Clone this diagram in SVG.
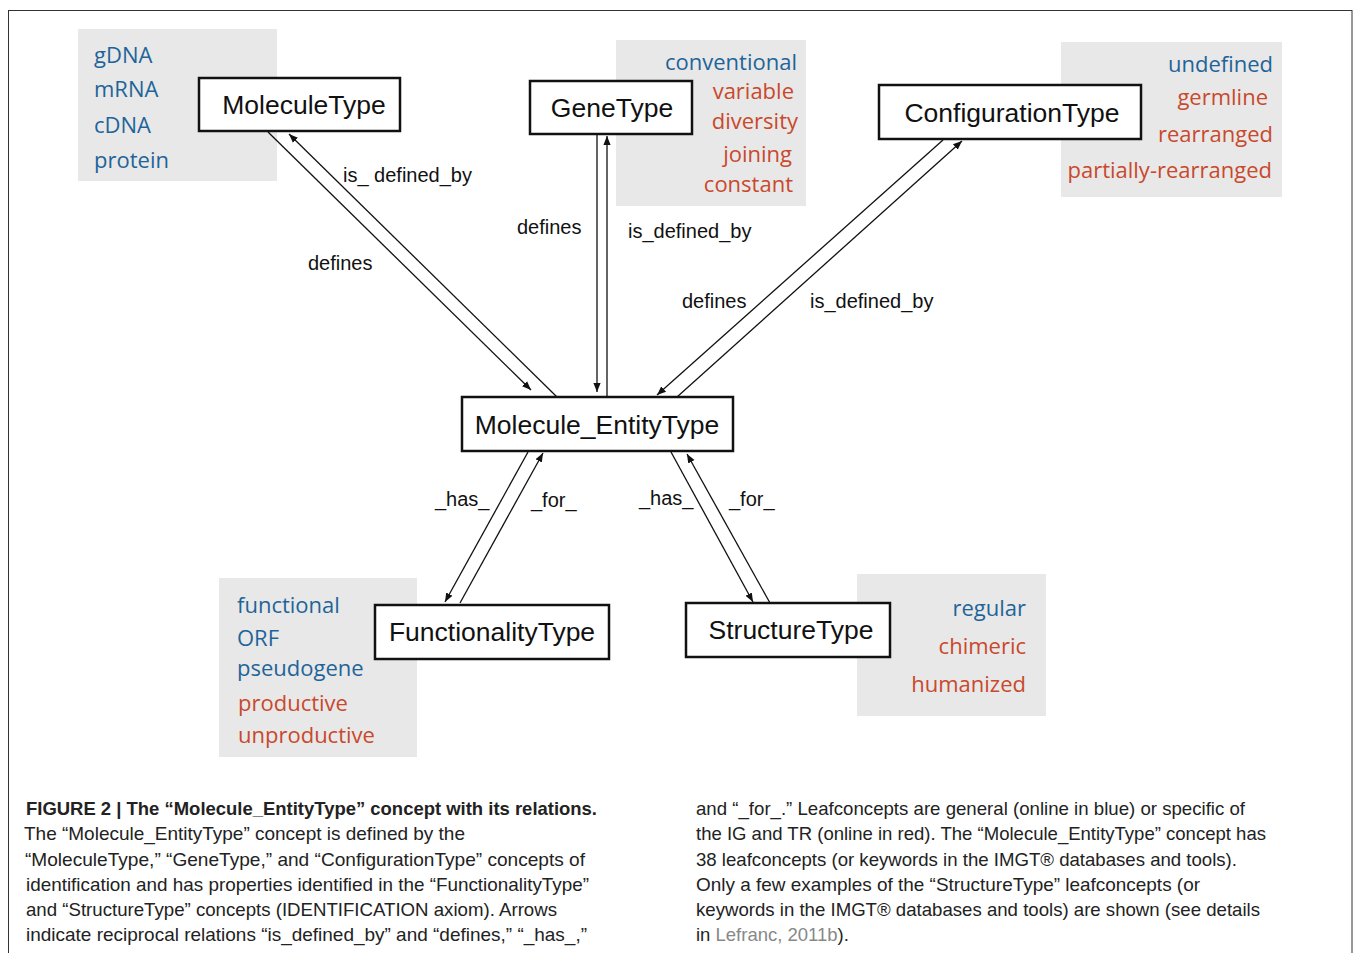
<svg xmlns="http://www.w3.org/2000/svg" width="1354" height="953" viewBox="0 0 1354 953">
<style>
.node rect{fill:#fff;stroke:#111;stroke-width:2.5}
.node text{font-family:"Liberation Sans",Arial,sans-serif;font-size:26.5px;fill:#111;text-anchor:middle}
.leaf rect{fill:#e8e8e8}
.leaf text{font-family:"Open Sans","Liberation Sans",sans-serif;font-size:22px}
.b{fill:#1f6499}
.r{fill:#c9492c}
.end{text-anchor:end}
.conn line{stroke:#111;stroke-width:1.3}
.lbl{font-family:"Liberation Sans",Arial,sans-serif;font-size:20px;fill:#111}
.cap{font-family:"Liberation Sans",Arial,sans-serif;font-size:18.5px;fill:#222}
</style>
<defs>
<marker id="ah" viewBox="0 0 10 10" refX="10" refY="5" markerWidth="9" markerHeight="9" markerUnits="userSpaceOnUse" orient="auto">
<path d="M0,1 L10,5 L0,9 z" fill="#111"/>
</marker>
</defs>
<rect x="8.5" y="10.5" width="1343.5" height="960" fill="none" stroke="#333" stroke-width="1"/>

<g id="leaf-molecule" class="leaf">
<rect x="78" y="29" width="199" height="152"/>
<text x="94" y="63" class="b">gDNA</text>
<text x="94" y="97" class="b">mRNA</text>
<text x="94" y="133" class="b">cDNA</text>
<text x="94" y="168" class="b">protein</text>
</g>
<g id="leaf-gene" class="leaf">
<rect x="616" y="40" width="190" height="166"/>
<text x="797" y="70" class="b end">conventional</text>
<text x="794" y="99" class="r end">variable</text>
<text x="798" y="129" class="r end">diversity</text>
<text x="792" y="162" class="r end">joining</text>
<text x="793" y="192" class="r end">constant</text>
</g>
<g id="leaf-config" class="leaf">
<rect x="1061" y="42" width="221" height="155"/>
<text x="1273" y="72" class="b end">undefined</text>
<text x="1268" y="105" class="r end">germline</text>
<text x="1273" y="142" class="r end">rearranged</text>
<text x="1272" y="178" class="r end">partially-rearranged</text>
</g>
<g id="leaf-functionality" class="leaf">
<rect x="219" y="578" width="198" height="179"/>
<text x="237" y="613" class="b">functional</text>
<text x="237" y="646" class="b">ORF</text>
<text x="237" y="676" class="b">pseudogene</text>
<text x="238" y="711" class="r">productive</text>
<text x="238" y="743" class="r">unproductive</text>
</g>
<g id="leaf-structure" class="leaf">
<rect x="857" y="574" width="189" height="142"/>
<text x="1026" y="616" class="b end">regular</text>
<text x="1026" y="654" class="r end">chimeric</text>
<text x="1026" y="692" class="r end">humanized</text>
</g>

<g id="connectors" class="conn">
<line x1="268" y1="132" x2="531" y2="390" marker-end="url(#ah)"/>
<line x1="557" y1="397" x2="289" y2="134" marker-end="url(#ah)"/>
<line x1="597" y1="134" x2="597" y2="392" marker-end="url(#ah)"/>
<line x1="607" y1="397" x2="607" y2="136" marker-end="url(#ah)"/>
<line x1="943" y1="140" x2="657" y2="395" marker-end="url(#ah)"/>
<line x1="677" y1="397" x2="962" y2="141" marker-end="url(#ah)"/>
<line x1="528" y1="452" x2="445" y2="602" marker-end="url(#ah)"/>
<line x1="460" y1="603" x2="543" y2="453" marker-end="url(#ah)"/>
<line x1="671" y1="452" x2="753" y2="602" marker-end="url(#ah)"/>
<line x1="770" y1="603" x2="687" y2="454" marker-end="url(#ah)"/>
</g>
<g id="labels">
<text class="lbl" x="343" y="182">is_ defined_by</text>
<text class="lbl" x="308" y="270">defines</text>
<text class="lbl" x="517" y="234">defines</text>
<text class="lbl" x="628" y="238">is_defined_by</text>
<text class="lbl" x="682" y="308">defines</text>
<text class="lbl" x="810" y="308">is_defined_by</text>
<text class="lbl" x="435" y="506">_has_</text>
<text class="lbl" x="531" y="507">_for_</text>
<text class="lbl" x="639" y="505">_has_</text>
<text class="lbl" x="729" y="506">_for_</text>
</g>

<g id="MoleculeType" class="node">
<rect x="199" y="78" width="201" height="53"/>
<text x="304" y="114">MoleculeType</text>
</g>
<g id="GeneType" class="node">
<rect x="530" y="81" width="162" height="53"/>
<text x="612" y="117">GeneType</text>
</g>
<g id="ConfigurationType" class="node">
<rect x="879" y="85" width="262" height="54"/>
<text x="1012" y="122">ConfigurationType</text>
</g>
<g id="Molecule_EntityType" class="node">
<rect x="462" y="397" width="271" height="54"/>
<text x="597" y="434">Molecule_EntityType</text>
</g>
<g id="FunctionalityType" class="node">
<rect x="375" y="605" width="234" height="54"/>
<text x="492" y="641">FunctionalityType</text>
</g>
<g id="StructureType" class="node">
<rect x="686" y="603" width="204" height="54"/>
<text x="791" y="639">StructureType</text>
</g>

<g id="caption">
<text class="cap" x="26" y="815" font-weight="bold" fill="#111" textLength="571" lengthAdjust="spacingAndGlyphs">FIGURE 2 | The “Molecule_EntityType” concept with its relations.</text>
<text class="cap" x="24" y="840" textLength="441" lengthAdjust="spacingAndGlyphs">The “Molecule_EntityType” concept is defined by the</text>
<text class="cap" x="25" y="866" textLength="560" lengthAdjust="spacingAndGlyphs">“MoleculeType,” “GeneType,” and “ConfigurationType” concepts of</text>
<text class="cap" x="26" y="891" textLength="563" lengthAdjust="spacingAndGlyphs">identification and has properties identified in the “FunctionalityType”</text>
<text class="cap" x="26" y="916" textLength="531" lengthAdjust="spacingAndGlyphs">and “StructureType” concepts (IDENTIFICATION axiom). Arrows</text>
<text class="cap" x="26" y="941" textLength="561" lengthAdjust="spacingAndGlyphs">indicate reciprocal relations “is_defined_by” and “defines,” “_has_,”</text>
<text class="cap" x="696" y="815" textLength="549" lengthAdjust="spacingAndGlyphs">and “_for_.” Leafconcepts are general (online in blue) or specific of</text>
<text class="cap" x="696" y="840" textLength="570" lengthAdjust="spacingAndGlyphs">the IG and TR (online in red). The “Molecule_EntityType” concept has</text>
<text class="cap" x="696" y="866" textLength="541" lengthAdjust="spacingAndGlyphs">38 leafconcepts (or keywords in the IMGT® databases and tools).</text>
<text class="cap" x="696" y="891" textLength="504" lengthAdjust="spacingAndGlyphs">Only a few examples of the “StructureType” leafconcepts (or</text>
<text class="cap" x="696" y="916" textLength="564" lengthAdjust="spacingAndGlyphs">keywords in the IMGT® databases and tools) are shown (see details</text>
<text class="cap" x="696" y="941">in <tspan fill="#888">Lefranc, 2011b</tspan>).</text>
</g>
</svg>
